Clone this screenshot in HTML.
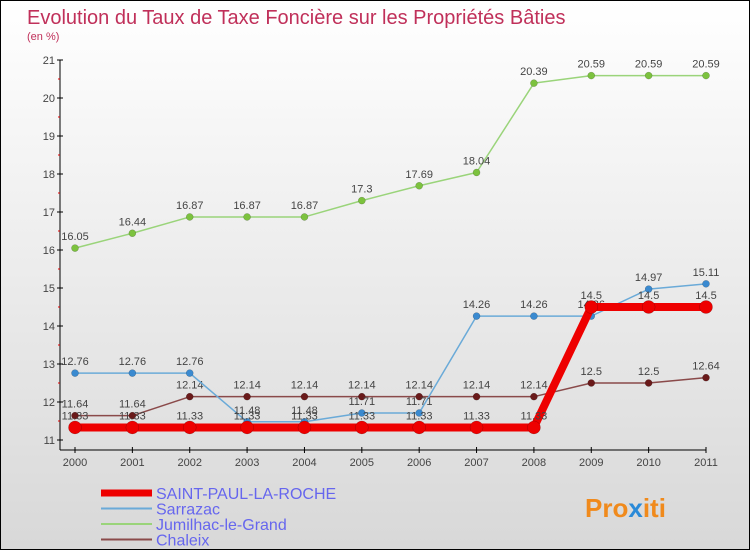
<!DOCTYPE html>
<html><head><meta charset="utf-8"><style>
html,body{margin:0;padding:0}
body{width:750px;height:550px;overflow:hidden;font-family:"Liberation Sans",sans-serif}
#wrap{position:relative;width:748px;height:548px;border:1px solid #000;background:linear-gradient(#fff,#d8d8d8)}
</style></head><body>
<div id="wrap">
<svg id="chart" width="748" height="548">
<text x="26" y="23" font-size="20" fill="#c0305a">Evolution du Taux de Taxe Foncière sur les Propriétés Bâties</text>
<text x="26" y="39" font-size="11" fill="#c0305a">(en %)</text>
<g id="axes"></g>
<g id="series"></g>
<g id="legend"></g>
<text x="584" y="516" font-size="26" font-weight="bold" fill="#f08a1c">Pro<tspan fill="#2a8ad8">x</tspan>iti</text>
</svg>
</div>
<script>
const years=[2000,2001,2002,2003,2004,2005,2006,2007,2008,2009,2010,2011];
const yTicks=[11,12,13,14,15,16,17,18,19,20,21];
const saint=[11.33,11.33,11.33,11.33,11.33,11.33,11.33,11.33,11.33,14.5,14.5,14.5];
const sarrazac=[12.76,12.76,12.76,11.48,11.48,11.71,11.71,14.26,14.26,14.26,14.97,15.11];
const jumilhac=[16.05,16.44,16.87,16.87,16.87,17.3,17.69,18.04,20.39,20.59,20.59,20.59];
const chaleix=[11.64,11.64,12.14,12.14,12.14,12.14,12.14,12.14,12.14,12.5,12.5,12.64];
const NS='http://www.w3.org/2000/svg';
function X(i){return 74+i*(631/11);}
function Y(v){return 59+(21-v)*38;}
function mk(tag,attrs,parent,txt){const e=document.createElementNS(NS,tag);for(const k in attrs)e.setAttribute(k,attrs[k]);if(txt!==undefined)e.textContent=txt;parent.appendChild(e);return e;}
const axes=document.getElementById('axes');
let e=mk('line',{x1:59,y1:Y(21),x2:59,y2:Y(11)+10,stroke:'#000'},axes);


e=mk('line',{x1:59,y1:449,x2:X(11),y2:449,stroke:'#000'},axes);


yTicks.forEach(t=>{
  mk('line',{x1:56,y1:Y(t),x2:62,y2:Y(t),stroke:'#000'},axes);
  if(t<21)mk('line',{x1:57,y1:Y(t+0.5),x2:59,y2:Y(t+0.5),stroke:'#d00'},axes);
  const l=mk('text',{x:54,y:Y(t)+4,'font-size':11,fill:'#444','text-anchor':'end'},axes,String(t));
  
  
});
years.forEach((yr,i)=>{
  mk('line',{x1:X(i),y1:446,x2:X(i),y2:452,stroke:'#000'},axes);
  const l=mk('text',{x:X(i),y:465,'font-size':11,fill:'#444','text-anchor':'middle'},axes,String(yr));
  
  
});
const ser=document.getElementById('series');
function draw(name,vals,color,w,r,dot,labels){
  const g=mk('g',{},ser);
  
  
  mk('polyline',{points:vals.map((v,i)=>X(i)+','+Y(v)).join(' '),fill:'none',stroke:color,'stroke-width':w,'stroke-linejoin':'round'},g);
  vals.forEach((v,i)=>{
    const c=mk('circle',{cx:X(i),cy:Y(v),r:r,fill:dot,stroke:'rgba(0,0,0,0.3)','stroke-width':0.5},g);
    
    
    if(labels){
      const t=mk('text',{x:X(i),y:Y(v)-8,'font-size':11,fill:'#444','text-anchor':'middle'},g,String(v));
      
      
    }
  });
}
draw('jumilhac',jumilhac,'#9ad47a',1.5,3.5,'#7cc23e',true);
draw('chaleix',chaleix,'#8a4a4a',1.5,3.5,'#6a1a1a',true);
draw('sarrazac',sarrazac,'#6aaad8',1.5,3.5,'#3a8ad0',true);
draw('saint-paul',saint,'#ee0000',8,6.5,'#ee0000',true);
const lg=document.getElementById('legend');
const items=[['SAINT-PAUL-LA-ROCHE','#ee0000',7],['Sarrazac','#6aaad8',2],['Jumilhac-le-Grand','#9ad47a',2],['Chaleix','#8a4a4a',2]];
items.forEach((it,i)=>{
  const y=492+i*15.5;
  const g=mk('g',{},lg);
  
  
  mk('line',{x1:100,y1:y,x2:151,y2:y,stroke:it[1],'stroke-width':it[2]},g);
  mk('text',{x:155,y:y+6,'font-size':16,fill:'#6666ee'},g,it[0]);
});
</script>
</body></html>
